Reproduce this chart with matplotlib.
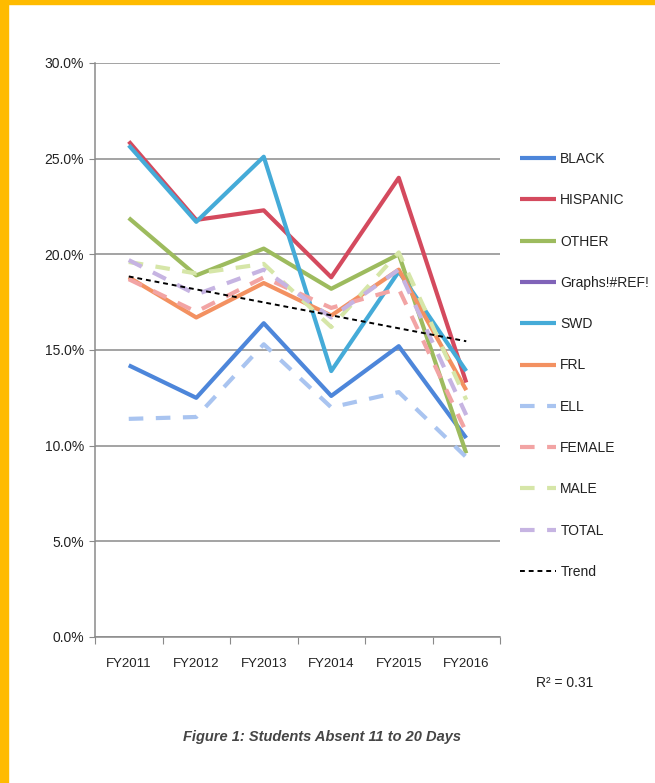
import numpy as np
import matplotlib.pyplot as plt
from matplotlib.patches import Rectangle
from matplotlib.ticker import FuncFormatter, FixedLocator

years = ["FY2011", "FY2012", "FY2013", "FY2014", "FY2015", "FY2016"]

# percent of students absent 11 to 20 days
black = [14.2, 12.5, 16.4, 12.6, 15.2, 10.4]
hispanic = [25.9, 21.8, 22.3, 18.8, 24.0, 13.3]
other = [21.9, 18.9, 20.3, 18.2, 20.0, 9.6]
ref_err = []  # "Graphs!#REF!" series has no data
swd = [25.7, 21.7, 25.1, 13.9, 19.1, 13.9]
frl = [18.8, 16.7, 18.5, 16.8, 19.2, 12.9]
ell = [11.4, 11.5, 15.3, 12.0, 12.8, 9.4]
female = [18.7, 17.0, 18.8, 17.2, 18.2, 10.7]
male = [19.6, 19.0, 19.5, 16.2, 20.1, 12.4]
total = [19.7, 17.9, 19.2, 16.7, 19.2, 11.6]

plt.rcParams["font.family"] = ["Liberation Sans", "DejaVu Sans"]

fig = plt.figure(figsize=(6.55, 7.83), dpi=100)
fig.patch.set_facecolor("white")

# orange frame strips of the scanned page
fig.patches.append(Rectangle((0, 0), 8 / 655, 1, transform=fig.transFigure,
                             color="#FFBB00", zorder=0))
fig.patches.append(Rectangle((0, 1 - 4 / 783), 1, 4 / 783, transform=fig.transFigure,
                             color="#FFBB00", zorder=0))

ax = fig.add_axes([95 / 655, 1 - 637 / 783, 405 / 655, 574 / 783])

x = np.arange(len(years))
series = [
    ("BLACK", black, "#4D86DA", "-"),
    ("HISPANIC", hispanic, "#D44A5E", "-"),
    ("OTHER", other, "#9DBB5E", "-"),
    ("Graphs!#REF!", ref_err, "#8063B8", "-"),
    ("SWD", swd, "#45ABD8", "-"),
    ("FRL", frl, "#F39161", "-"),
    ("ELL", ell, "#A9C4F0", "--"),
    ("FEMALE", female, "#F2A4A4", "--"),
    ("MALE", male, "#D6E6A8", "--"),
    ("TOTAL", total, "#C6B4E2", "--"),
]

handles = []
for name, vals, col, ls in series:
    vals = np.array(vals) / 100
    xs = x[:len(vals)]
    ln, = ax.plot(xs, vals, color=col, lw=3.0, ls=ls, label=name,
                  dashes=(3.5, 3.0) if ls == "--" else (None, None),
                  solid_capstyle="butt", dash_capstyle="butt", zorder=3)
    handles.append(ln)

# linear trend on FRL
coef = np.polyfit(x, np.array(frl) / 100, 1)
tr, = ax.plot(x, np.polyval(coef, x), color="black", lw=1.4, ls=(0, (2.5, 2)),
              label="Trend", zorder=4)
handles.append(tr)

ax.set_xlim(-0.5, 5.5)
ax.set_ylim(0, 0.30)
ax.set_yticks(np.arange(0, 0.301, 0.05))
ax.yaxis.set_major_formatter(FuncFormatter(lambda v, p: f"{v * 100:.1f}%"))
ax.grid(axis="y", color="#8a8a8a", lw=1.1, zorder=1)

ax.xaxis.set_major_locator(FixedLocator(np.arange(-0.5, 6, 1)))
ax.xaxis.set_minor_locator(FixedLocator(x))
ax.set_xticklabels([""] * 7)
ax.set_xticklabels(years, minor=True)
ax.tick_params(axis="x", which="minor", length=0, pad=15, labelsize=9.5, colors="#222222")
ax.tick_params(axis="x", which="major", length=5, color="#8a8a8a")
ax.tick_params(axis="y", length=4, color="#8a8a8a", labelsize=10, labelcolor="#222222", pad=4)

for s in ["top", "right"]:
    ax.spines[s].set_visible(False)
for s in ["left", "bottom"]:
    ax.spines[s].set_color("#8a8a8a")
    ax.spines[s].set_linewidth(1.1)

fig.legend(handles=handles, loc="upper left", bbox_to_anchor=(520 / 655, 1 - 152 / 783),
           frameon=False, fontsize=10, handlelength=2.6, handletextpad=0.3,
           labelspacing=1.965, borderpad=0, borderaxespad=0, labelcolor="#222222")

fig.text(565 / 655, 1 - 683 / 783, "R² = 0.31", ha="center", va="center",
         fontsize=10, color="#222222")
fig.text(322 / 655, 1 - 737 / 783, "Figure 1: Students Absent 11 to 20 Days",
         ha="center", va="center", fontsize=10.5, fontweight="bold", fontstyle="italic",
         color="#454545")

fig.savefig("out.png", dpi=100, facecolor="white")
